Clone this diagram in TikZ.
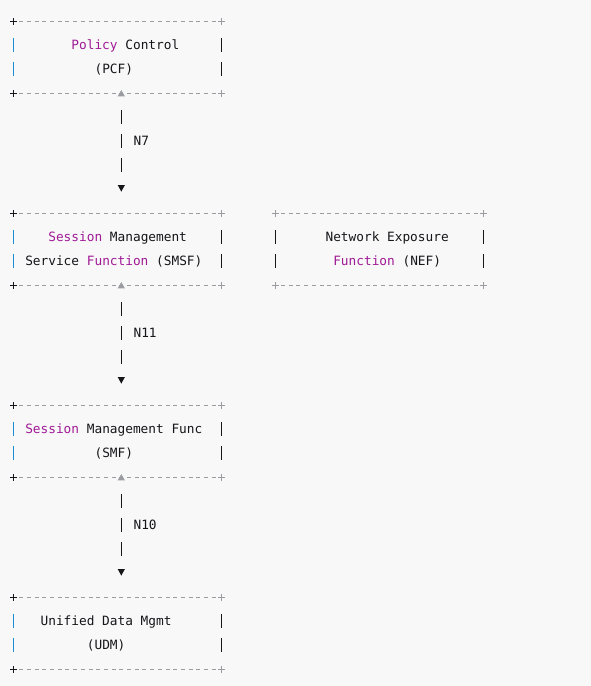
\documentclass[tikz,border=0pt]{standalone}
\usepackage{fontspec}
\usetikzlibrary{arrows.meta}
\newfontfamily\codefont{DejaVu Sans Mono}
\definecolor{bgc}{RGB}{248,248,248}
\definecolor{fgc}{RGB}{22,22,26}
\definecolor{kwc}{RGB}{160,26,150}
\definecolor{opc}{RGB}{30,140,210}
\definecolor{cmc}{RGB}{155,156,162}
\newcommand\kw[1]{\textcolor{kwc}{#1}}
\newcommand\plusat[2]{\draw[plusline,#1] ([xshift=-3.4pt]#2) -- ([xshift=3.4pt]#2) ([yshift=-3.6pt]#2) -- ([yshift=3.6pt]#2);}
\newcommand\asciibox[3]{%
  \draw[dashline] ([xshift=5.7pt]#1.north west) -- ([xshift=-5.7pt]#1.north east);
  \draw[dashline] ([xshift=5.7pt]#1.south west) -- ([xshift=-5.7pt]#1.south east);
  \draw[sidebars,#2] (#1.north west) -- (#1.south west);
  \draw[sidebars,fgc] (#1.north east) -- (#1.south east);
  \plusat{#3}{#1.north west}\plusat{#3}{#1.south west}%
  \plusat{cmc,line width=1pt}{#1.north east}\plusat{cmc,line width=1pt}{#1.south east}}
\tikzset{
  boxarea/.style={inner sep=0pt, outer sep=0pt, minimum width=207.9pt, minimum height=72pt},
  txt/.style={font=\codefont\fontsize{12.79pt}{14pt}\selectfont, text=fgc, anchor=base west, inner sep=0pt},
  dashline/.style={cmc, line width=1pt, dash pattern=on 4pt off 3.7pt},
  sidebars/.style={line width=1.4pt, dash pattern=on 0pt off 17.1pt on 13.8pt off 10.2pt on 13.8pt off 40pt},
  plusline/.style={line width=1.4pt},
  link/.style={fgc, line width=1.4pt, dash pattern=on 0pt off 14.1pt on 13.8pt off 10.2pt on 13.8pt off 10.2pt on 13.8pt off 60pt, {Triangle[length=6.3pt,width=6.8pt,color=cmc]}-{Triangle[length=6.7pt,width=6.8pt]}},
  lbl/.style={txt, anchor=west, xshift=11.55pt},
}
\begin{document}
\begin{tikzpicture}[x=1pt,y=-1pt]
\fill[bgc] (0,0) rectangle (591,686);
\useasboundingbox (0,0) rectangle (591,686);
% box areas
\node[boxarea] (pcf)  at (117.45,57.3)  {};
\node[boxarea] (smsf) at (117.45,249.3) {};
\node[boxarea] (nef)  at (379.25,249.3) {};
\node[boxarea] (smf)  at (117.45,441.3) {};
\node[boxarea] (udm)  at (117.45,633.3) {};
% borders
\asciibox{pcf}{opc}{fgc}
\asciibox{smsf}{opc}{fgc}
\asciibox{nef}{fgc}{cmc,line width=1pt}
\asciibox{smf}{opc}{fgc}
\asciibox{udm}{opc}{fgc}
% texts
\node[txt] (pcf1)  at (71.25,49.5)  {\kw{Policy} Control};
\node[txt] (pcf2)  at (94.35,73.5)  {(PCF)};
\node[txt] (smsf1) at (48.15,241.5) {\kw{Session} Management};
\node[txt] (smsf2) at (25.05,265.5) {Service \kw{Function} (SMSF)};
\node[txt] (nef1)  at (325.35,241.5) {Network Exposure};
\node[txt] (nef2)  at (333.05,265.5) {\kw{Function} (NEF)};
\node[txt] (smf1)  at (25.05,433.5) {\kw{Session} Management Func};
\node[txt] (smf2)  at (94.35,457.5) {(SMF)};
\node[txt] (udm1)  at (40.45,625.5) {Unified Data Mgmt};
\node[txt] (udm2)  at (86.65,649.5) {(UDM)};
% connectors
\draw[link] ([xshift=3.85pt,yshift=3.3pt]pcf.south) -- ([xshift=3.85pt,yshift=21.6pt]smsf.north) node[midway,lbl] (n7) {N7};
\draw[link] ([xshift=3.85pt,yshift=3.3pt]smsf.south) -- ([xshift=3.85pt,yshift=21.6pt]smf.north) node[midway,lbl] (n11) {N11};
\draw[link] ([xshift=3.85pt,yshift=3.3pt]smf.south) -- ([xshift=3.85pt,yshift=21.6pt]udm.north) node[midway,lbl] (n10) {N10};
\end{tikzpicture}
\end{document}
